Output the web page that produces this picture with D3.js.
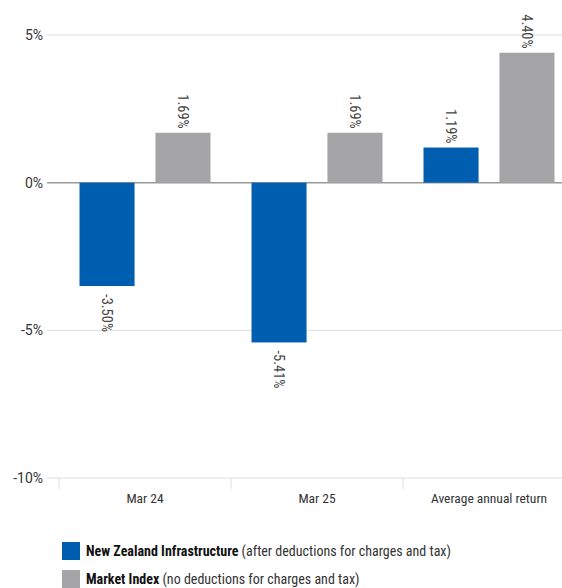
<!DOCTYPE html>
<html>
<head>
<meta charset="utf-8">
<script src="https://cdn.jsdelivr.net/npm/d3@7"></script>
<style>
  body { margin: 0; background: #fff; }
  svg text { font-family: "Liberation Sans Narrow", "Roboto Condensed", Roboto, sans-serif; }
  svg text.tick { font-family: Roboto, sans-serif; }
</style>
</head>
<body>
<svg id="chart" width="562" height="588"></svg>
<script>
const categories = ["Mar 24", "Mar 25", "Average annual return"];
const seriesNames = ["New Zealand Infrastructure", "Market Index"];
const seriesNotes = ["(after deductions for charges and tax)", "(no deductions for charges and tax)"];
const fundValues = [-3.50, -5.41, 1.19];
const indexValues = [1.69, 1.69, 4.40];
const yTicks = [5, 0, -5, -10];
const colors = ["#005eb0", "#a5a5a7"];

const svg = d3.select("#chart");
const plotLeft = 47, plotRight = 562, plotTop = 35, plotBottom = 478;

const x = d3.scaleBand().domain(categories).range([59, 575]);
const xi = d3.scaleBand().domain([0, 1]).range([0, x.bandwidth()]).paddingInner(0.275).paddingOuter(0.27);
const y = d3.scaleLinear().domain([-10, 5]).range([plotBottom, plotTop]);

// gridlines
svg.append("g").selectAll("line").data(yTicks).join("line")
  .attr("x1", plotLeft).attr("x2", plotRight)
  .attr("y1", d => y(d)).attr("y2", d => y(d))
  .attr("stroke", d => d === 0 ? "#999" : "#dedede")
  .attr("stroke-width", d => d === 0 ? 1.5 : 1);

svg.append("g").selectAll("text").data(yTicks).join("text")
  .attr("class", "tick")
  .attr("x", 43).attr("y", d => y(d) + 5)
  .attr("text-anchor", "end")
  .attr("font-size", 14).attr("fill", "#333")
  .text(d => d + "%");

// x axis ticks at band edges
const edges = categories.map(c => x(c)).concat([x.range()[1]]);
svg.append("g").selectAll("line").data(edges).join("line")
  .attr("x1", d => d).attr("x2", d => d)
  .attr("y1", plotBottom).attr("y2", plotBottom + 11)
  .attr("stroke", "#dedede");

svg.append("g").selectAll("text").data(categories).join("text")
  .attr("x", d => x(d) + x.bandwidth() / 2).attr("y", plotBottom + 25)
  .attr("text-anchor", "middle")
  .attr("font-size", 13.5).attr("fill", "#333")
  .text(d => d);

// bars
const rows = categories.map((c, i) => [fundValues[i], indexValues[i]]);
const groups = svg.append("g").selectAll("g").data(rows).join("g")
  .attr("transform", (d, i) => `translate(${x(categories[i])},0)`);

groups.selectAll("rect").data(d => d).join("rect")
  .attr("x", (d, j) => xi(j))
  .attr("width", xi.bandwidth())
  .attr("y", d => y(Math.max(0, d)))
  .attr("height", d => Math.abs(y(d) - y(0)))
  .attr("fill", (d, j) => colors[j]);

groups.selectAll("text").data(d => d).join("text")
  .attr("transform", (d, j) => {
    const cx = xi(j) + xi.bandwidth() / 2 - 5;
    const cy = d >= 0 ? y(d) - 4 : y(d) + 8;
    return `translate(${cx},${cy}) rotate(90)`;
  })
  .attr("text-anchor", d => d >= 0 ? "end" : "start")
  .attr("font-size", 14.5).attr("fill", "#444")
  .text(d => d.toFixed(2) + "%");

// legend
const legend = svg.append("g").selectAll("g").data(seriesNames).join("g")
  .attr("transform", (d, i) => `translate(62,${542 + i * 28})`);
legend.append("rect").attr("width", 18).attr("height", 18)
  .attr("fill", (d, i) => colors[i]);
const lt = legend.append("text").attr("x", 24).attr("y", 14)
  .attr("font-size", 14).attr("fill", "#111");
lt.append("tspan").attr("font-weight", "bold").text(d => d);
lt.append("tspan").attr("fill", "#333").text((d, i) => " " + seriesNotes[i]);
</script>
</body>
</html>
